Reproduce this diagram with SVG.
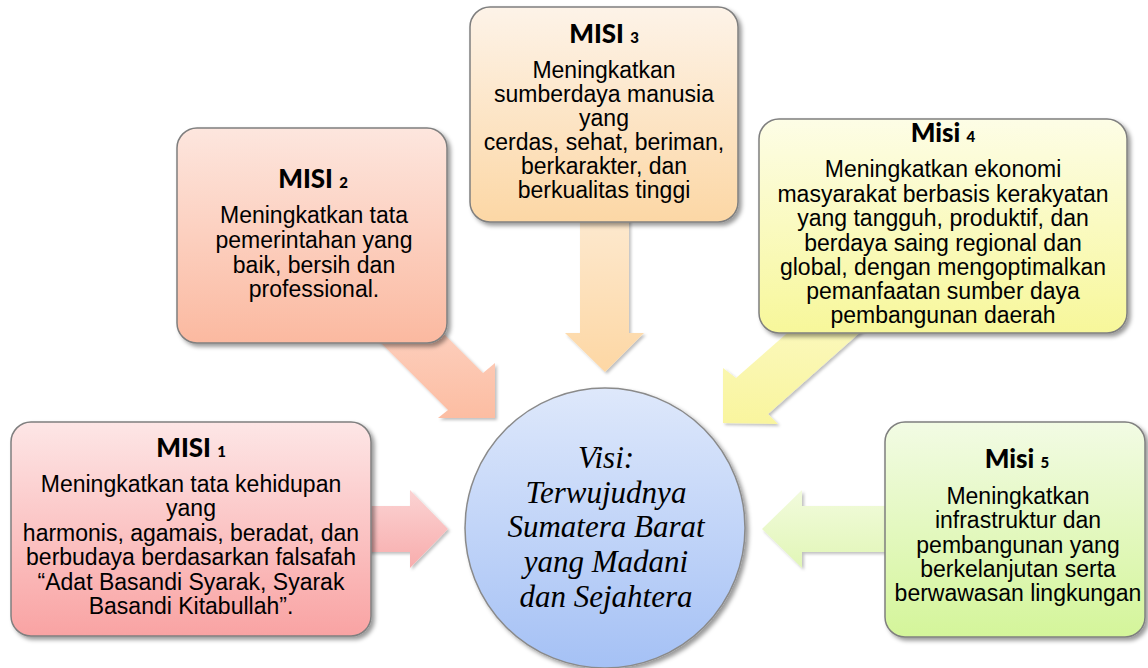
<svg xmlns="http://www.w3.org/2000/svg" width="1148" height="668" viewBox="0 0 1148 668">
<defs>
<filter id="sh" x="-10%" y="-10%" width="125%" height="125%">
<feDropShadow dx="3" dy="3" stdDeviation="2" flood-color="#000" flood-opacity="0.4"/>
</filter>
<filter id="ash" x="-10%" y="-10%" width="125%" height="125%">
<feDropShadow dx="2" dy="2" stdDeviation="1.5" flood-color="#000" flood-opacity="0.25"/>
</filter>
<linearGradient id="g1" x1="0" y1="0" x2="0" y2="1"><stop offset="0" stop-color="#fde6e6"/><stop offset="1" stop-color="#f9a3a3"/></linearGradient>
<linearGradient id="g2" x1="0" y1="0" x2="0" y2="1"><stop offset="0" stop-color="#fde6de"/><stop offset="1" stop-color="#fbb9a0"/></linearGradient>
<linearGradient id="g3" x1="0" y1="0" x2="0" y2="1"><stop offset="0" stop-color="#fdf3e8"/><stop offset="1" stop-color="#fcd7a5"/></linearGradient>
<linearGradient id="g4" x1="0" y1="0" x2="0" y2="1"><stop offset="0" stop-color="#fdfde6"/><stop offset="1" stop-color="#f7f79a"/></linearGradient>
<linearGradient id="g5" x1="0" y1="0" x2="0" y2="1"><stop offset="0" stop-color="#f2fbe4"/><stop offset="1" stop-color="#d4f59a"/></linearGradient>
<linearGradient id="gc" x1="0" y1="0" x2="0" y2="1"><stop offset="0" stop-color="#dee8fb"/><stop offset="1" stop-color="#a5c1f5"/></linearGradient>
<linearGradient id="a1" x1="0" y1="0" x2="0" y2="1"><stop offset="0" stop-color="#fbd3d3"/><stop offset="1" stop-color="#f8adad"/></linearGradient>
<linearGradient id="a2" x1="0" y1="0" x2="0" y2="1"><stop offset="0" stop-color="#fdd2c2"/><stop offset="1" stop-color="#fcbda2"/></linearGradient>
<linearGradient id="a3" x1="0" y1="0" x2="0" y2="1"><stop offset="0" stop-color="#fde9cf"/><stop offset="1" stop-color="#fdd7a4"/></linearGradient>
<linearGradient id="a4" x1="0" y1="0" x2="0" y2="1"><stop offset="0" stop-color="#fbf8bd"/><stop offset="1" stop-color="#f9f59e"/></linearGradient>
<linearGradient id="a5" x1="0" y1="0" x2="0" y2="1"><stop offset="0" stop-color="#f2fbdd"/><stop offset="1" stop-color="#e1f6b6"/></linearGradient>
</defs>
<style>
.box{stroke:#7f7f7f;stroke-width:1.5;filter:url(#sh)}
.arr{filter:url(#ash)}
.hd{font-family:"Lato","Liberation Sans",sans-serif;font-weight:900;font-size:26px;fill:#000;text-anchor:middle}
.num{font-size:15px}
.tx{font-family:"Liberation Sans",Arial,sans-serif;font-size:23px;fill:#000;text-anchor:middle}
.vs{font-family:"Liberation Serif","Times New Roman",serif;font-style:italic;font-size:31px;fill:#000;text-anchor:middle}
</style>
<g id="connectors">
<polygon class="arr" fill="url(#a1)" points="360,506 410,506 410,490 448,529 410,568 410,552 360,552"/>
<polygon class="arr" fill="url(#a2)" points="368,330 448,410 438,418 495,418 495,363 483,373 423,313"/>
<polygon class="arr" fill="url(#a3)" points="580,215 629,215 629,333 644,333 605,372 565,333 580,333"/>
<polygon class="arr" fill="url(#a4)" points="802,320 736,378 723,368 723,423 778,424 768,414 874,320"/>
<polygon class="arr" fill="url(#a5)" points="890,506 802,506 802,490 762,529 802,568 802,552 890,552"/>
</g>
<g id="misi3">
<rect class="box" x="470" y="7" width="268" height="215" rx="20" fill="url(#g3)"/>
<text class="hd" x="604" y="43">MISI <tspan class="num">3</tspan></text>
<text class="tx" x="604" y="78">Meningkatkan</text>
<text class="tx" x="604" y="102">sumberdaya manusia</text>
<text class="tx" x="604" y="126">yang</text>
<text class="tx" x="604" y="150">cerdas, sehat, beriman,</text>
<text class="tx" x="604" y="174">berkarakter, dan</text>
<text class="tx" x="604" y="198">berkualitas tinggi</text>
</g>
<g id="misi2">
<rect class="box" x="177" y="128" width="270" height="215" rx="20" fill="url(#g2)"/>
<text class="hd" x="313" y="188">MISI <tspan class="num">2</tspan></text>
<text class="tx" x="314" y="223">Meningkatkan tata</text>
<text class="tx" x="314" y="248">pemerintahan yang</text>
<text class="tx" x="314" y="273">baik, bersih dan</text>
<text class="tx" x="314" y="297">professional.</text>
</g>
<g id="misi4">
<rect class="box" x="759" y="119" width="368" height="214" rx="20" fill="url(#g4)"/>
<text class="hd" x="943" y="142">Misi <tspan class="num">4</tspan></text>
<text class="tx" x="943" y="177">Meningkatkan ekonomi</text>
<text class="tx" x="943" y="202">masyarakat berbasis kerakyatan</text>
<text class="tx" x="943" y="226">yang tangguh, produktif, dan</text>
<text class="tx" x="943" y="251">berdaya saing regional dan</text>
<text class="tx" x="943" y="275">global, dengan mengoptimalkan</text>
<text class="tx" x="943" y="299">pemanfaatan sumber daya</text>
<text class="tx" x="943" y="323">pembangunan daerah</text>
</g>
<g id="misi1">
<rect class="box" x="11" y="422" width="360" height="214" rx="20" fill="url(#g1)"/>
<text class="hd" x="191" y="457">MISI <tspan class="num">1</tspan></text>
<text class="tx" x="191" y="492">Meningkatkan tata kehidupan</text>
<text class="tx" x="191" y="516">yang</text>
<text class="tx" x="191" y="541">harmonis, agamais, beradat, dan</text>
<text class="tx" x="191" y="565">berbudaya berdasarkan falsafah</text>
<text class="tx" x="191" y="590">“Adat Basandi Syarak, Syarak</text>
<text class="tx" x="191" y="614">Basandi Kitabullah”.</text>
</g>
<g id="misi5">
<rect class="box" x="885" y="422" width="260" height="215" rx="20" fill="url(#g5)"/>
<text class="hd" x="1017" y="468">Misi <tspan class="num">5</tspan></text>
<text class="tx" x="1018" y="504">Meningkatkan</text>
<text class="tx" x="1018" y="528">infrastruktur dan</text>
<text class="tx" x="1018" y="553">pembangunan yang</text>
<text class="tx" x="1018" y="577">berkelanjutan serta</text>
<text class="tx" x="1018" y="601">berwawasan lingkungan</text>
</g>
<g id="visi">
<circle cx="605" cy="528" r="140" fill="url(#gc)" stroke="#8a8a8a" stroke-width="1.5" filter="url(#sh)"/>
<text class="vs" x="606" y="468">Visi:</text>
<text class="vs" x="606" y="503">Terwujudnya</text>
<text class="vs" x="606" y="537">Sumatera Barat</text>
<text class="vs" x="606" y="572">yang Madani</text>
<text class="vs" x="606" y="607">dan Sejahtera</text>
</g>
</svg>
